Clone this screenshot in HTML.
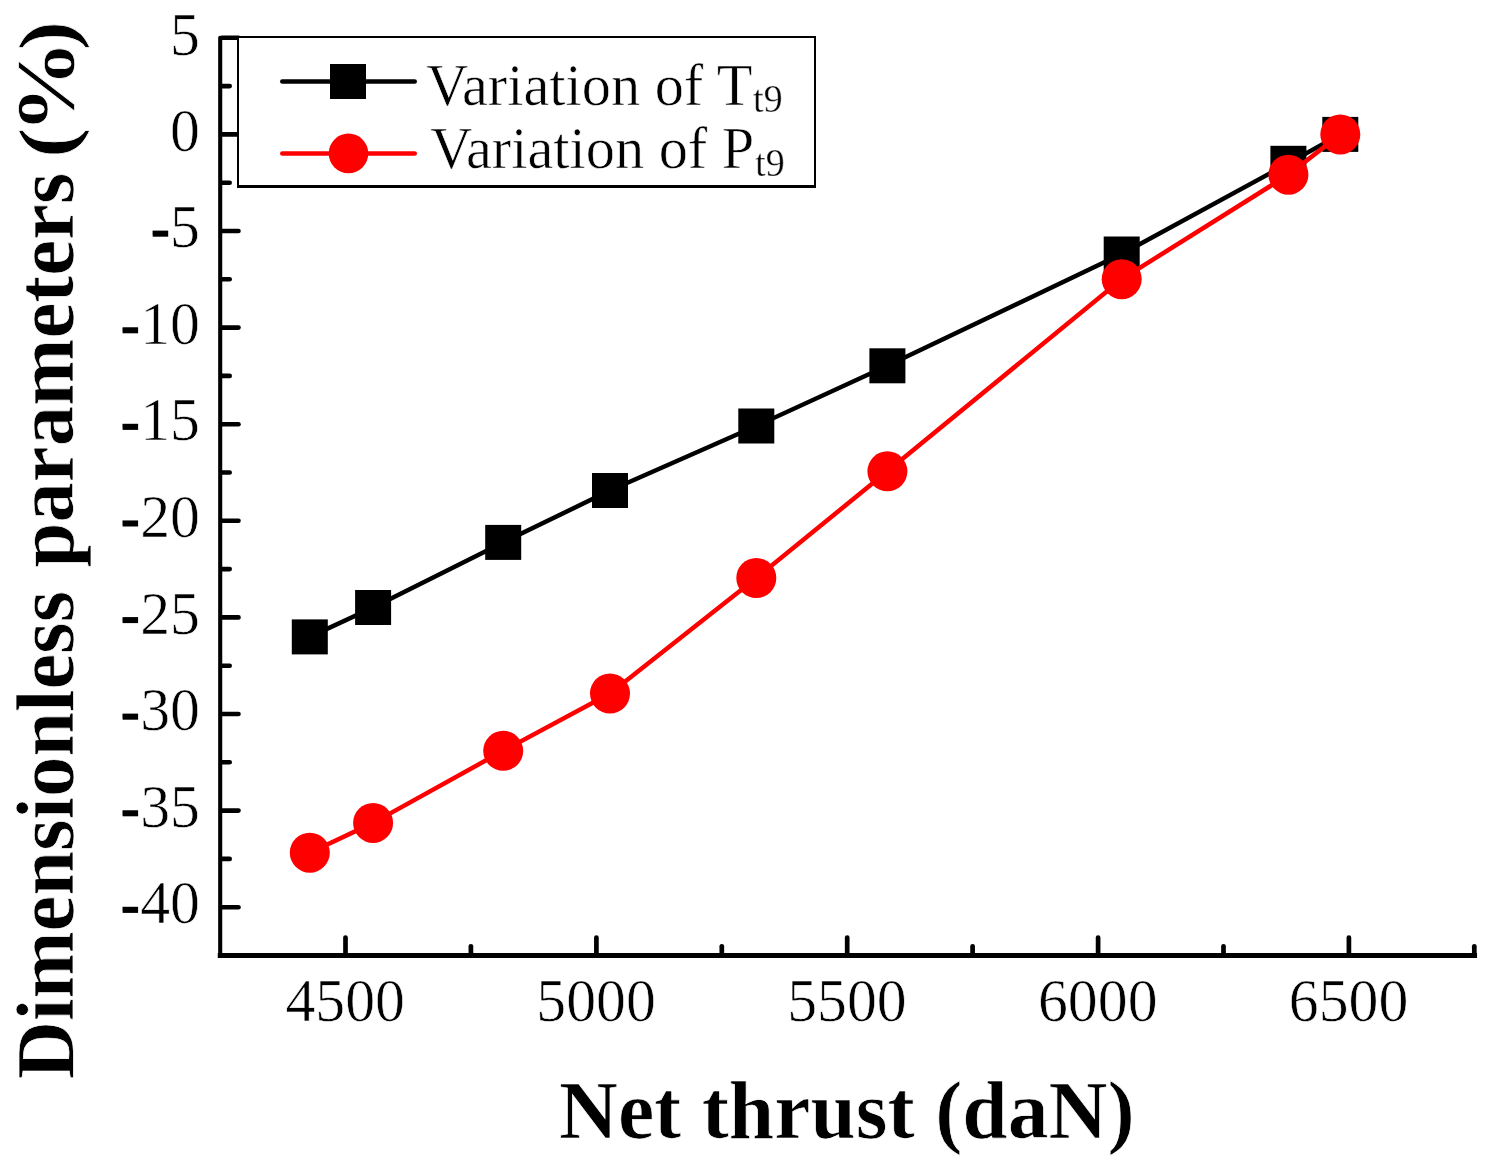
<!DOCTYPE html>
<html><head><meta charset="utf-8"><title>Chart</title><style>html,body{margin:0;padding:0;background:#fff;}svg{display:block;}text{font-family:"Liberation Serif",serif;fill:#000;}</style>
</head><body>
<svg width="1492" height="1168" viewBox="0 0 1492 1168">
<rect x="0" y="0" width="1492" height="1168" fill="#ffffff"/>
<g stroke="#000" stroke-linecap="round" fill="none">
<path d="M220.2 37.8 V955.5" stroke-width="4.1"/>
<path d="M220.2 955.5 H1474.6" stroke-width="4.9" stroke-linecap="square"/>
<path d="M222 37.8 H238.5" stroke-width="4.6"/>
<path d="M222 134.4 H238.5" stroke-width="4.6"/>
<path d="M222 231.0 H238.5" stroke-width="4.6"/>
<path d="M222 327.6 H238.5" stroke-width="4.6"/>
<path d="M222 424.2 H238.5" stroke-width="4.6"/>
<path d="M222 520.8 H238.5" stroke-width="4.6"/>
<path d="M222 617.4 H238.5" stroke-width="4.6"/>
<path d="M222 714.0 H238.5" stroke-width="4.6"/>
<path d="M222 810.6 H238.5" stroke-width="4.6"/>
<path d="M222 907.2 H238.5" stroke-width="4.6"/>
<path d="M222 86.1 H229.7" stroke-width="4.6"/>
<path d="M222 182.7 H229.7" stroke-width="4.6"/>
<path d="M222 279.3 H229.7" stroke-width="4.6"/>
<path d="M222 375.9 H229.7" stroke-width="4.6"/>
<path d="M222 472.5 H229.7" stroke-width="4.6"/>
<path d="M222 569.1 H229.7" stroke-width="4.6"/>
<path d="M222 665.7 H229.7" stroke-width="4.6"/>
<path d="M222 762.3 H229.7" stroke-width="4.6"/>
<path d="M222 858.9 H229.7" stroke-width="4.6"/>
<path d="M345.5 954.4 V937.5" stroke-width="4.7"/>
<path d="M596.4 954.4 V937.5" stroke-width="4.7"/>
<path d="M847.2 954.4 V937.5" stroke-width="4.7"/>
<path d="M1098.1 954.4 V937.5" stroke-width="4.7"/>
<path d="M1348.9 954.4 V937.5" stroke-width="4.7"/>
<path d="M470.9 954.4 V946.3" stroke-width="4.7"/>
<path d="M721.8 954.4 V946.3" stroke-width="4.7"/>
<path d="M972.6 954.4 V946.3" stroke-width="4.7"/>
<path d="M1223.5 954.4 V946.3" stroke-width="4.7"/>
<path d="M1474.3 954.4 V946.3" stroke-width="4.7"/>
</g>
<polyline points="309.8,636.9 373.1,607.5 503.2,542.4 610.0,490.5 756.3,426.0 887.4,365.8 1121.7,254.0 1288.4,163.3 1340.3,134.4" fill="none" stroke="#000" stroke-width="4.5" stroke-linejoin="round"/>
<rect x="291.8" y="619.4" width="36" height="35" fill="#000"/>
<rect x="355.1" y="590.0" width="36" height="35" fill="#000"/>
<rect x="485.2" y="524.9" width="36" height="35" fill="#000"/>
<rect x="592.0" y="473.0" width="36" height="35" fill="#000"/>
<rect x="738.3" y="408.5" width="36" height="35" fill="#000"/>
<rect x="869.4" y="348.3" width="36" height="35" fill="#000"/>
<rect x="1103.7" y="236.5" width="36" height="35" fill="#000"/>
<rect x="1270.4" y="145.8" width="36" height="35" fill="#000"/>
<rect x="1322.3" y="116.9" width="36" height="35" fill="#000"/>
<polyline points="309.8,852.7 373.1,822.9 503.2,750.8 610.0,693.5 756.3,578.0 887.4,471.3 1121.7,279.2 1288.4,174.7 1340.3,134.4" fill="none" stroke="#ff0000" stroke-width="4.5" stroke-linejoin="round"/>
<circle cx="309.8" cy="852.7" r="20" fill="#ff0000"/>
<circle cx="373.1" cy="822.9" r="20" fill="#ff0000"/>
<circle cx="503.2" cy="750.8" r="20" fill="#ff0000"/>
<circle cx="610.0" cy="693.5" r="20" fill="#ff0000"/>
<circle cx="756.3" cy="578.0" r="20" fill="#ff0000"/>
<circle cx="887.4" cy="471.3" r="20" fill="#ff0000"/>
<circle cx="1121.7" cy="279.2" r="20" fill="#ff0000"/>
<circle cx="1288.4" cy="174.7" r="20" fill="#ff0000"/>
<circle cx="1340.3" cy="134.4" r="20" fill="#ff0000"/>
<rect x="238" y="37" width="577" height="149.5" fill="#fff" stroke="#000" stroke-width="2" shape-rendering="crispEdges"/>
<rect x="237" y="185" width="579" height="3" fill="#000" shape-rendering="crispEdges"/>
<path d="M282.3 81.5 H414.7" stroke="#000" stroke-width="4.6" stroke-linecap="round"/>
<rect x="330" y="64" width="36" height="35" fill="#000"/>
<path d="M282.3 153.5 H414.7" stroke="#ff0000" stroke-width="4.6" stroke-linecap="round"/>
<circle cx="348.5" cy="153.4" r="19.8" fill="#ff0000"/>
<text transform="translate(426.30 105.30) scale(0.9724 1)" font-size="60.0" text-anchor="start" stroke="#fff" stroke-width="0.6">Variation of T</text>
<path transform="translate(753.00 111.60) scale(0.01866 -0.01895)" d="M334 -20Q238 -20 190.5 37.0Q143 94 143 197V856H20V901L145 940L246 1153H309V940H524V856H309V215Q309 150 338.5 117.0Q368 84 416 84Q474 84 557 100V35Q522 11 456.0 -4.5Q390 -20 334 -20Z" fill="#000" stroke="#fff" stroke-width="26.4"/><path transform="translate(763.62 111.60) scale(0.01866 -0.01895)" d="M66 932Q66 1134 179.0 1245.0Q292 1356 498 1356Q727 1356 833.5 1191.0Q940 1026 940 674Q940 337 803.0 158.5Q666 -20 418 -20Q255 -20 119 14V246H184L219 102Q251 87 305.0 75.0Q359 63 414 63Q574 63 660.0 203.5Q746 344 755 617Q603 532 446 532Q269 532 167.5 637.5Q66 743 66 932ZM500 1276Q250 1276 250 928Q250 775 310.0 702.0Q370 629 496 629Q625 629 756 682Q756 989 695.5 1132.5Q635 1276 500 1276Z" fill="#000" stroke="#fff" stroke-width="26.4"/>
<text transform="translate(430.30 168.00) scale(0.9724 1)" font-size="60.0" text-anchor="start" stroke="#fff" stroke-width="0.6">Variation of P</text>
<path transform="translate(755.10 175.70) scale(0.01866 -0.01895)" d="M334 -20Q238 -20 190.5 37.0Q143 94 143 197V856H20V901L145 940L246 1153H309V940H524V856H309V215Q309 150 338.5 117.0Q368 84 416 84Q474 84 557 100V35Q522 11 456.0 -4.5Q390 -20 334 -20Z" fill="#000" stroke="#fff" stroke-width="26.4"/><path transform="translate(765.72 175.70) scale(0.01866 -0.01895)" d="M66 932Q66 1134 179.0 1245.0Q292 1356 498 1356Q727 1356 833.5 1191.0Q940 1026 940 674Q940 337 803.0 158.5Q666 -20 418 -20Q255 -20 119 14V246H184L219 102Q251 87 305.0 75.0Q359 63 414 63Q574 63 660.0 203.5Q746 344 755 617Q603 532 446 532Q269 532 167.5 637.5Q66 743 66 932ZM500 1276Q250 1276 250 928Q250 775 310.0 702.0Q370 629 496 629Q625 629 756 682Q756 989 695.5 1132.5Q635 1276 500 1276Z" fill="#000" stroke="#fff" stroke-width="26.4"/>
<text transform="translate(345.20 1020.60) scale(0.9880 1)" font-size="60.5" text-anchor="middle" stroke="#fff" stroke-width="0.6">4500</text>
<text transform="translate(596.05 1020.60) scale(0.9880 1)" font-size="60.5" text-anchor="middle" stroke="#fff" stroke-width="0.6">5000</text>
<text transform="translate(846.90 1020.60) scale(0.9880 1)" font-size="60.5" text-anchor="middle" stroke="#fff" stroke-width="0.6">5500</text>
<text transform="translate(1097.75 1020.60) scale(0.9880 1)" font-size="60.5" text-anchor="middle" stroke="#fff" stroke-width="0.6">6000</text>
<text transform="translate(1348.60 1020.60) scale(0.9880 1)" font-size="60.5" text-anchor="middle" stroke="#fff" stroke-width="0.6">6500</text>
<text transform="translate(200.00 55.00) scale(0.9880 1)" font-size="60.5" text-anchor="end" stroke="#fff" stroke-width="0.6">5</text>
<text transform="translate(200.00 150.60) scale(0.9880 1)" font-size="60.5" text-anchor="end" stroke="#fff" stroke-width="0.6">0</text>
<text transform="translate(200.00 247.20) scale(0.9880 1)" font-size="60.5" text-anchor="end" stroke="#fff" stroke-width="0.6">-5</text>
<text transform="translate(200.00 343.80) scale(0.9880 1)" font-size="60.5" text-anchor="end" stroke="#fff" stroke-width="0.6">-10</text>
<text transform="translate(200.00 440.40) scale(0.9880 1)" font-size="60.5" text-anchor="end" stroke="#fff" stroke-width="0.6">-15</text>
<text transform="translate(200.00 537.00) scale(0.9880 1)" font-size="60.5" text-anchor="end" stroke="#fff" stroke-width="0.6">-20</text>
<text transform="translate(200.00 633.60) scale(0.9880 1)" font-size="60.5" text-anchor="end" stroke="#fff" stroke-width="0.6">-25</text>
<text transform="translate(200.00 730.20) scale(0.9880 1)" font-size="60.5" text-anchor="end" stroke="#fff" stroke-width="0.6">-30</text>
<text transform="translate(200.00 826.80) scale(0.9880 1)" font-size="60.5" text-anchor="end" stroke="#fff" stroke-width="0.6">-35</text>
<text transform="translate(200.00 923.40) scale(0.9880 1)" font-size="60.5" text-anchor="end" stroke="#fff" stroke-width="0.6">-40</text>
<rect x="152.7" y="230.7" width="15.5" height="6" fill="#000"/>
<rect x="122.6" y="327.3" width="15.5" height="6" fill="#000"/>
<rect x="122.6" y="423.9" width="15.5" height="6" fill="#000"/>
<rect x="122.6" y="520.5" width="15.5" height="6" fill="#000"/>
<rect x="122.6" y="617.1" width="15.5" height="6" fill="#000"/>
<rect x="122.6" y="713.7" width="15.5" height="6" fill="#000"/>
<rect x="122.6" y="810.3" width="15.5" height="6" fill="#000"/>
<rect x="122.6" y="906.9" width="15.5" height="6" fill="#000"/>
<text x="846.8" y="1137.9" font-size="81.6" font-weight="bold" text-anchor="middle" stroke="#fff" stroke-width="0.7">Net thrust (daN)</text>
<text transform="translate(72.8 1079.20) rotate(-90) scale(0.9894 1.0000)" font-size="81.5" font-weight="bold" stroke="#fff" stroke-width="0.7">Dimensionless</text>
<text transform="translate(72.8 567.50) rotate(-90) scale(0.9916 1.0000)" font-size="81.5" font-weight="bold" stroke="#fff" stroke-width="0.7">parameters</text>
<text transform="translate(72.8 158.00) rotate(-90) scale(1.1200 0.9650)" font-size="81.5" font-weight="bold" stroke="#fff" stroke-width="0.7">(</text>
<text transform="translate(72.8 133.50) rotate(-90) scale(1.1460 1.0000)" font-size="81.5" font-weight="bold" stroke="#fff" stroke-width="0.7">%</text>
<text transform="translate(72.8 50.20) rotate(-90) scale(1.0800 0.9650)" font-size="81.5" font-weight="bold" stroke="#fff" stroke-width="0.7">)</text>
</svg></body></html>
